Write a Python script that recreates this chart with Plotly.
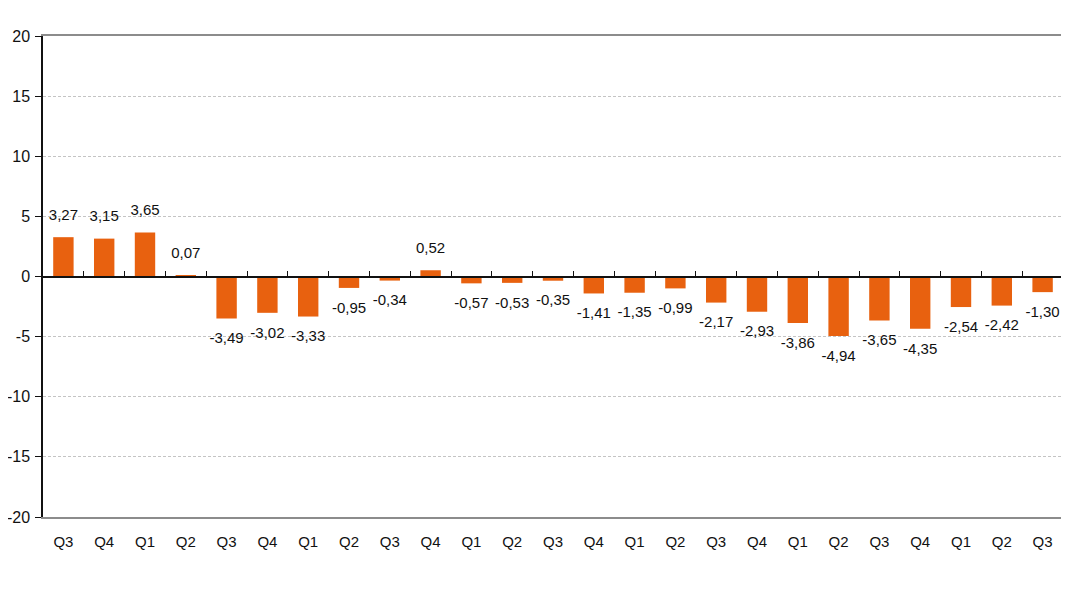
import plotly.graph_objects as go

quarters = ["Q3", "Q4", "Q1", "Q2", "Q3", "Q4", "Q1", "Q2", "Q3", "Q4", "Q1", "Q2", "Q3",
            "Q4", "Q1", "Q2", "Q3", "Q4", "Q1", "Q2", "Q3", "Q4", "Q1", "Q2", "Q3"]
values = [3.27, 3.15, 3.65, 0.07, -3.49, -3.02, -3.33, -0.95, -0.34, 0.52, -0.57, -0.53, -0.35,
          -1.41, -1.35, -0.99, -2.17, -2.93, -3.86, -4.94, -3.65, -4.35, -2.54, -2.42, -1.30]
y_ticks = [-20, -15, -10, -5, 0, 5, 10, 15, 20]
y_tick_labels = ["-20", "-15", "-10", "-5", "0", "5", "10", "15", "20"]

idx = list(range(len(quarters)))
boundaries = [i + 0.5 for i in range(-1, len(quarters))]

fig = go.Figure()
fig.add_trace(go.Bar(
    x=idx, y=values, width=0.5,
    marker=dict(color="#E8610F", line=dict(width=0)),
    hoverinfo="skip",
))
# value labels, pushed away from the bar ends by an invisible marker
fig.add_trace(go.Scatter(
    x=idx, y=values, mode="markers+text",
    marker=dict(size=20, opacity=0),
    text=[f"{v:.2f}".replace(".", ",") for v in values],
    textposition=["top center" if v >= 0 else "bottom center" for v in values],
    textfont=dict(family="Arial, Liberation Sans", size=15, color="#111111"),
    cliponaxis=False, hoverinfo="skip", showlegend=False,
))
# invisible trace to carry the zero-line axis with boundary ticks
fig.add_trace(go.Scatter(x=boundaries, y=[0] * len(boundaries), xaxis="x2",
                         mode="markers", marker=dict(opacity=0), hoverinfo="skip",
                         showlegend=False))

rng = [-0.5, len(quarters) - 0.5]
fig.update_layout(
    width=1069, height=605,
    margin=dict(l=35, r=14, t=28, b=96),
    paper_bgcolor="white", plot_bgcolor="white",
    showlegend=False,
    font=dict(family="Arial, Liberation Sans", color="#111111"),
    xaxis=dict(range=rng, tickmode="array", tickvals=idx, ticktext=quarters,
               showgrid=False, zeroline=False, ticks="", showline=True,
               linecolor="#8c8c8c", linewidth=2, mirror=True, automargin=False,
               tickfont=dict(size=15), ticklabelstandoff=10),
    xaxis2=dict(range=rng, overlaying="x", anchor="free", position=0.5, side="bottom",
                tickmode="array", tickvals=boundaries, showticklabels=False,
                ticks="inside", ticklen=5, tickcolor="#111111", tickwidth=1,
                showline=True, linecolor="#111111", linewidth=1.5,
                showgrid=False, zeroline=False, automargin=False),
    yaxis=dict(range=[-20, 20], tickmode="array", tickvals=y_ticks, ticktext=y_tick_labels,
               showgrid=True, gridcolor="#c4c4c4", griddash="3px,2px", gridwidth=1,
               zeroline=False, showline=True, linecolor="#111111", linewidth=1.5,
               ticks="outside", ticklen=6, tickcolor="#111111", automargin=False,
               tickfont=dict(size=16), ticklabelstandoff=2),
    shapes=[dict(type="line", xref="paper", yref="paper", x0=1, x1=1, y0=0, y1=1,
                 line=dict(color="#8c8c8c", width=2))],
)

fig.write_html("out.html")
